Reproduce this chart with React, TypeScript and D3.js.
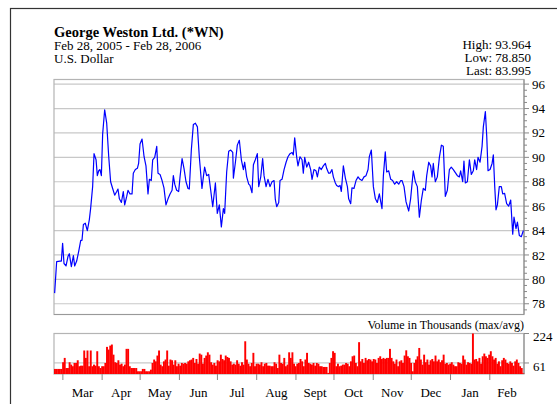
import React from "react";
import * as d3 from "d3";

const title = "George Weston Ltd. (*WN)";
const subtitle = ["Feb 28, 2005 - Feb 28, 2006", "U.S. Dollar"];
const stats = ["High: 93.964", "Low: 78.850", "Last: 83.995"];
const volumeTitle = "Volume in Thousands (max/avg)";

// days after Feb 22 2005, closing price
const priceDays = [
  0.5, 2.1, 4.7, 5.8, 6.8, 7.9, 9.5, 11.1, 12.1, 13.7, 15.3, 16.3, 17.9, 19.5, 21.1, 22.1, 23.2, 24.7, 26.3, 27.9,
  28.9, 30.5, 31.6, 33.2, 34.2, 35.3, 36.3, 37.4, 38.4, 40.0, 41.6, 43.2, 44.7, 46.3, 47.9, 49.5, 50.5, 51.6, 53.2, 54.7,
  55.8, 57.4, 58.4, 60.0, 61.6, 62.6, 64.2, 65.8, 66.8, 67.9, 69.5, 71.1, 72.6, 74.2, 75.3, 76.8, 77.9, 79.5, 81.1, 82.1,
  83.7, 85.3, 86.8, 88.4, 90.0, 91.6, 93.2, 94.2, 95.3, 96.8, 98.4, 99.5, 101.1, 102.6, 104.2, 105.8, 106.8, 108.4, 110.0, 111.6,
  113.2, 114.7, 116.8, 117.9, 118.9, 120.5, 122.1, 123.7, 125.3, 127.4, 128.9, 130.5, 132.1, 133.7, 134.7, 136.3, 137.9, 139.5, 141.1, 141.6,
  143.2, 144.7, 146.3, 147.9, 149.5, 150.5, 152.1, 153.7, 154.7, 156.3, 157.4, 158.9, 160.5, 161.6, 163.2, 164.7, 165.8, 167.4, 168.9, 170.5,
  172.1, 173.7, 174.7, 175.8, 177.4, 178.4, 180.0, 181.6, 183.2, 184.7, 186.3, 187.9, 188.9, 190.0, 191.6, 192.6, 194.2, 195.8, 196.8, 197.9,
  199.5, 201.0, 202.6, 203.7, 205.2, 206.8, 207.9, 209.4, 211.0, 212.6, 214.2, 215.2, 216.8, 217.9, 219.4, 220.5, 222.1, 223.1, 224.7, 225.8,
  226.8, 228.4, 230.0, 231.6, 232.6, 234.2, 235.2, 236.8, 238.4, 240.0, 241.5, 243.1, 244.7, 246.3, 247.9, 248.9, 250.5, 252.1, 253.7, 255.2,
  256.8, 258.9, 260.0, 261.5, 262.6, 264.2, 265.8, 267.3, 268.9, 270.5, 272.1, 273.7, 274.7, 276.3, 277.9, 280.0, 281.5, 283.6, 285.2, 286.8,
  288.4, 290.0, 291.5, 293.1, 294.2, 295.8, 297.3, 298.4, 299.4, 301.0, 302.6, 304.2, 305.8, 307.3, 308.9, 310.5, 312.1, 313.6, 315.2, 316.8,
  318.4, 320.0, 321.0, 322.6, 323.6, 324.7, 326.3, 327.9, 329.4, 331.0, 332.1, 333.6, 334.7, 336.3, 337.9, 338.9, 340.5, 341.6, 342.6, 344.2,
  345.8, 346.8, 347.9, 348.9, 350.0, 351.5, 353.1, 354.2, 355.7, 357.3, 358.9, 360.5, 362.1, 363.1, 364.7, 365.8, 367.3, 368.9, 370.5,
];
const priceValues = [
  78.87, 81.46, 81.5, 81.5, 82.96, 81.3, 81.1, 81.9, 82.1, 81.05, 81.95, 81.1, 81.5, 82.3, 83.2, 83.2, 84.5, 84.6, 84.0, 84.9,
  85.8, 87.6, 90.3, 89.8, 88.5, 88.9, 89.0, 88.5, 91.9, 93.9, 92.8, 90.05, 88.0, 87.45, 86.9, 87.2, 87.4, 86.6, 86.3, 87.2,
  86.1, 86.8, 87.3, 87.0, 87.0, 88.7, 89.0, 89.1, 89.5, 91.1, 91.5, 90.05, 89.3, 87.0, 88.2, 88.1, 89.8, 90.0, 90.9, 88.7,
  88.6, 88.1, 87.5, 86.1, 86.6, 87.0, 87.3, 88.5, 87.8, 87.3, 87.2, 88.4, 89.9, 89.1, 88.0, 87.45, 87.4, 90.6, 92.7, 92.8,
  92.5, 90.05, 87.45, 88.4, 89.2, 88.5, 88.6, 87.3, 85.95, 87.9, 85.4, 86.1, 84.3, 85.8, 85.4, 88.8, 90.5, 90.6, 90.4, 88.3,
  89.6, 91.0, 91.4, 89.8, 89.0, 89.6, 88.4, 87.8, 87.7, 87.1, 89.4, 89.8, 90.3, 87.6, 88.4, 89.9, 88.5, 87.6, 88.2, 87.6,
  88.0, 88.1, 86.55, 85.95, 86.3, 88.1, 88.2, 89.0, 89.6, 90.05, 90.3, 90.4, 90.2, 91.6, 90.0, 89.3, 90.05, 89.8, 88.7, 90.0,
  89.2, 89.6, 89.0, 88.2, 89.0, 88.9, 88.4, 89.2, 89.0, 89.3, 89.5, 89.1, 88.7, 88.7, 89.0, 88.4, 87.9, 87.7, 87.6, 87.7,
  87.2, 89.3, 88.3, 87.6, 86.6, 86.2, 87.5, 87.45, 88.1, 88.4, 88.2, 88.1, 88.4, 88.5, 89.0, 90.05, 90.6, 87.6, 86.6, 86.3,
  87.0, 85.8, 88.5, 90.45, 88.8, 88.9, 88.2, 88.1, 87.8, 88.0, 87.8, 88.1, 88.1, 87.6, 86.35, 85.6, 86.6, 88.9, 88.0, 87.6,
  85.1, 86.5, 87.45, 87.3, 88.5, 89.6, 89.3, 88.4, 89.5, 88.0, 88.4, 90.0, 91.0, 90.9, 86.8, 87.3, 89.0, 89.2, 89.0, 88.75,
  88.5, 88.4, 88.9, 88.0, 89.7, 87.9, 88.0, 89.8, 88.6, 88.9, 89.8, 89.0, 90.0, 89.6, 90.9, 92.5, 93.75, 91.7, 88.9, 89.0,
  89.5, 90.2, 87.6, 85.7, 86.1, 87.6, 87.6, 87.0, 87.05, 86.2, 86.0, 86.5, 83.7, 85.1, 84.15, 84.7, 83.6, 83.5, 84.0,
];

// daily volume, thousands
const volumes = [
  28, 28, 28, 28, 28, 65, 89, 33, 33, 65, 52, 43, 61, 61, 76, 43, 46, 46, 130, 89,
  130, 43, 130, 43, 52, 46, 126, 43, 33, 43, 43, 61, 150, 135, 157, 163, 107, 65, 61, 76,
  52, 57, 43, 52, 139, 139, 43, 33, 33, 33, 33, 15, 15, 15, 28, 28, 15, 15, 15, 24,
  61, 80, 70, 102, 130, 52, 43, 70, 80, 130, 46, 80, 76, 52, 76, 43, 57, 46, 61, 57,
  61, 57, 70, 76, 80, 89, 61, 83, 57, 113, 107, 57, 89, 102, 120, 107, 65, 52, 61, 46,
  76, 70, 107, 83, 76, 102, 94, 89, 70, 52, 57, 52, 76, 57, 46, 65, 52, 181, 80, 57,
  43, 61, 117, 43, 57, 57, 52, 65, 43, 57, 61, 46, 46, 43, 43, 65, 57, 33, 107, 61,
  57, 89, 43, 52, 120, 89, 120, 57, 43, 57, 61, 83, 70, 43, 80,
  117, 61, 57, 52, 61, 46, 61, 57, 43, 43, 39, 39, 39, 6, 61, 89, 126, 117, 43, 57,
  43, 46, 52, 52, 61, 57, 43, 70, 98, 102, 61, 43, 176, 70, 83, 61, 89, 76, 83, 80,
  70, 83, 80, 61, 89, 98, 83, 89, 83, 89, 89, 139, 89, 70, 57, 80, 43, 70, 76, 61,
  102, 131, 98, 89, 61, 15, 61, 80, 98, 144, 80, 52, 107, 65, 80, 52, 76, 83, 70, 102,
  70, 80, 65, 76, 107, 57, 61, 52, 57, 65, 52, 43, 43, 65, 61, 57, 102, 80, 52, 65,
  61, 57, 224, 80, 83, 70, 89, 57, 98, 113, 98, 89, 107, 126, 98, 80, 89, 57, 70, 43,
  76, 89, 80, 61, 57, 70, 61, 46, 70, 80, 61, 43, 33, 6,
];

const priceTicks = d3.range(78, 97, 2);
const minorTicks = d3.range(77.5, 96.5, 0.5);
const volumeTicks = [61, 224];
const monthLabels = ["Mar", "Apr", "May", "Jun", "Jul", "Aug", "Sept", "Oct", "Nov", "Dec", "Jan", "Feb"];

const serif = "'Liberation Serif', 'Times New Roman', serif";

export default function App() {
  const width = 557;
  const height = 404;
  const plot = { left: 54, right: 524, top: 79.5, bottom: 314.5 };
  const vol = { top: 333.5, bottom: 374 };

  const start = new Date(2005, 1, 22);
  const end = new Date(2006, 1, 28);
  const dayMs = 864e5;

  const x = d3.scaleTime().domain([start, end]).range([plot.left, plot.right]);
  const y = d3.scaleLinear().domain([77.12, 96.38]).range([plot.bottom, plot.top]);
  const yv = d3.scaleLinear().domain([0, 224]).range([vol.bottom, vol.top]);
  const xb = d3
    .scaleBand<number>()
    .domain(d3.range(volumes.length))
    .range([plot.left, plot.right]);

  const line = d3
    .line<number>()
    .x((d, i) => x(new Date(start.getTime() + priceDays[i] * dayMs)))
    .y((d) => y(d));

  const months = d3.timeMonth.range(new Date(2005, 2, 1), new Date(2006, 2, 1));

  return (
    <svg
      width={width}
      height={height}
      style={{ position: "absolute", left: 0, top: 0, background: "#fff" }}
      fontFamily={serif}
    >
      <rect x={10.5} y={8.5} width={600} height={500} fill="none" stroke="#333" strokeWidth={1.2} />

      {/* header */}
      <text x={54} y={36.5} fontSize={14.5} fontWeight="bold" fill="#000">
        {title}
      </text>
      {subtitle.map((s, i) => (
        <text key={s} x={54} y={49.5 + i * 13} fontSize={13} fill="#000">
          {s}
        </text>
      ))}
      {stats.map((s, i) => (
        <text key={s} x={531} y={49 + i * 13} fontSize={13} textAnchor="end" fill="#000">
          {s}
        </text>
      ))}

      {/* price panel */}
      {priceTicks.map((t) => (
        <line key={t} x1={plot.left} x2={plot.right} y1={y(t)} y2={y(t)} stroke="#c8c8c8" strokeWidth={1.2} />
      ))}
      <rect
        x={plot.left}
        y={plot.top}
        width={plot.right - plot.left}
        height={plot.bottom - plot.top}
        fill="none"
        stroke="#b4b4b4"
        strokeWidth={1.2}
      />
      <line x1={plot.left} x2={plot.right} y1={plot.bottom} y2={plot.bottom} stroke="#999" strokeWidth={1.2} />
      <line x1={plot.right} x2={plot.right} y1={plot.top} y2={plot.bottom} stroke="#888" />
      {minorTicks.map((t) => (
        <line key={t} x1={plot.right} x2={plot.right + (t % 2 === 0 ? 5 : 3)} y1={y(t)} y2={y(t)} stroke="#888" />
      ))}
      {priceTicks.map((t) => (
        <text key={t} x={532} y={y(t)} dy="0.35em" fontSize={13} fill="#000">
          {t}
        </text>
      ))}
      <path d={line(priceValues) || ""} fill="none" stroke="#0000ff" strokeWidth={1.2} strokeLinejoin="round" />

      {/* volume panel */}
      <text x={plot.right} y={329} fontSize={12} textAnchor="end" fill="#000">
        {volumeTitle}
      </text>
      <line x1={plot.left} x2={plot.right} y1={yv(61)} y2={yv(61)} stroke="#c8c8c8" strokeWidth={1.2} />
      <rect
        x={plot.left}
        y={vol.top}
        width={plot.right - plot.left}
        height={vol.bottom - vol.top}
        fill="none"
        stroke="#b4b4b4"
        strokeWidth={1.2}
      />
      {volumes.map((v, i) => (
        <rect
          key={i}
          x={xb(i)!}
          y={yv(v)}
          width={xb.bandwidth() + 0.3}
          height={vol.bottom - yv(v)}
          fill="#ff0000"
        />
      ))}
      <line x1={plot.right} x2={plot.right} y1={vol.top} y2={vol.bottom} stroke="#888" />
      {volumeTicks.map((t) => (
        <g key={t}>
          <line x1={plot.right} x2={plot.right + 5} y1={yv(t)} y2={yv(t)} stroke="#888" />
          <text x={533} y={yv(t) + 3} dy="0.35em" fontSize={13} fill="#000">
            {t}
          </text>
        </g>
      ))}

      {/* month axis */}
      {months.map((m, i) => {
        const next = i + 1 < months.length ? months[i + 1] : end;
        return (
          <g key={i}>
            <line x1={x(m)} x2={x(m)} y1={vol.bottom} y2={vol.bottom + 6} stroke="#888" />
            <text x={(x(m) + x(next)) / 2} y={397} fontSize={13} textAnchor="middle" fill="#000">
              {monthLabels[i]}
            </text>
          </g>
        );
      })}
    </svg>
  );
}
